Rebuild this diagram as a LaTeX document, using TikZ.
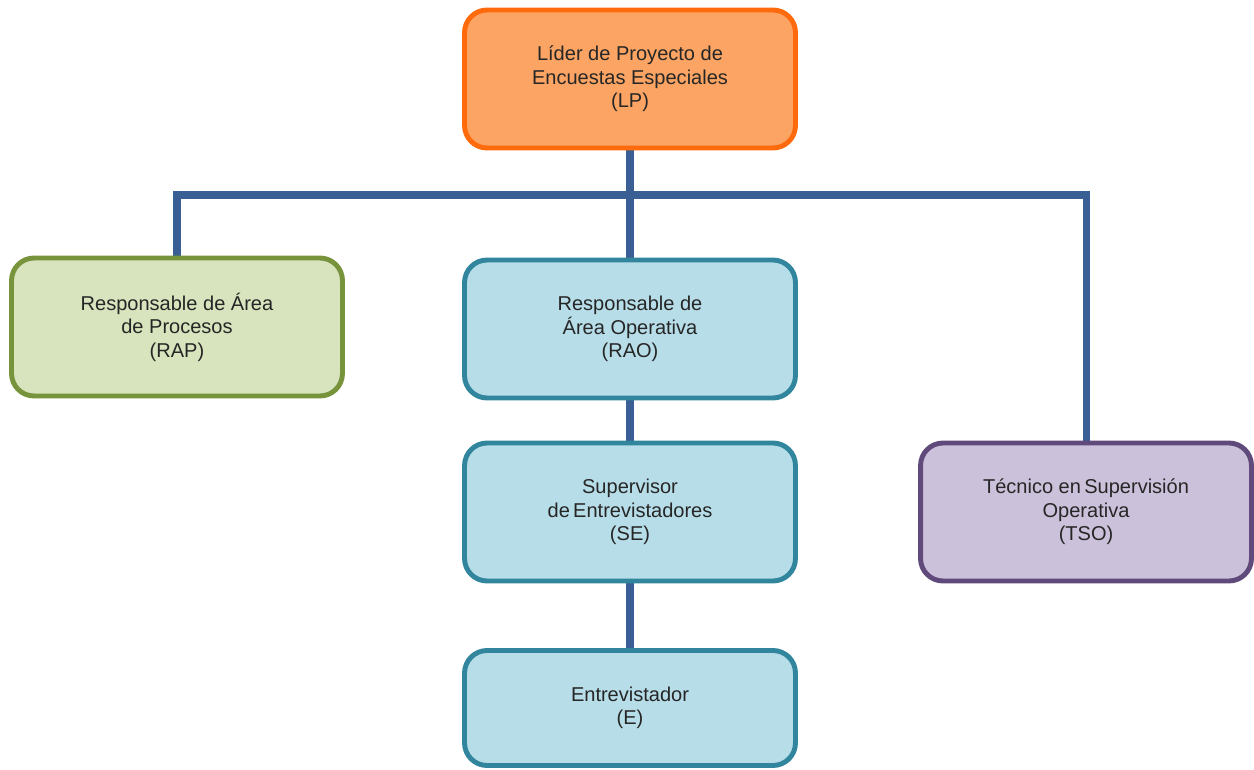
\documentclass[tikz,border=0pt]{standalone}
\usepackage{fontspec}
\setmainfont{Liberation Sans}
\usetikzlibrary{backgrounds}
\definecolor{lpfill}{HTML}{FBA463}
\definecolor{lpline}{HTML}{FE6A0C}
\definecolor{rapfill}{HTML}{D7E4BD}
\definecolor{rapline}{HTML}{77933C}
\definecolor{opfill}{HTML}{B7DDE8}
\definecolor{opline}{HTML}{31859C}
\definecolor{tsofill}{HTML}{CCC1DA}
\definecolor{tsoline}{HTML}{604A7B}
\definecolor{link}{HTML}{3A5F94}
\begin{document}
\begin{tikzpicture}[x=0.02cm,y=-0.02cm,
    font=\fontsize{11.4}{13.4}\selectfont,
    unit/.style={draw,line width=2.8pt,rounded corners=0.45cm,align=center,
        minimum width=6.62cm,minimum height=2.76cm,text=black!85},
    link/.style={draw=link,line width=4pt}]
    \useasboundingbox (0,0) rectangle (1254,770);
    \node[unit,fill=lpfill,draw=lpline] (LP) at (630,79)
        {Líder de Proyecto de\\Encuestas Especiales\\(LP)};
    \node[unit,fill=rapfill,draw=rapline] (RAP) at (177,327)
        {Responsable de Área\\de Procesos\\(RAP)};
    \node[unit,fill=opfill,draw=opline] (RAO) at (630,329)
        {Responsable de\\Área Operativa\\(RAO)};
    \node[unit,fill=opfill,draw=opline] (SE) at (630,512)
        {Supervisor\\de\,Entrevistadores\\(SE)};
    \node[unit,fill=opfill,draw=opline,minimum height=2.3cm] (E) at (630,708)
        {Entrevistador\\(E)};
    \node[unit,fill=tsofill,draw=tsoline] (TSO) at (1086,512)
        {Técnico en\,Supervisión\\Operativa\\(TSO)};
    \coordinate (bar) at (630,195);
    % connectors behind the boxes
    \begin{scope}[on background layer]
    \draw[link] (LP) -- (bar);
    \draw[link] (RAP) |- (bar) -| (TSO);
    \draw[link] (bar) -- (RAO);
    \draw[link] (RAO) -- (SE);
    \draw[link] (SE) -- (E);
    \end{scope}
\end{tikzpicture}
\end{document}
